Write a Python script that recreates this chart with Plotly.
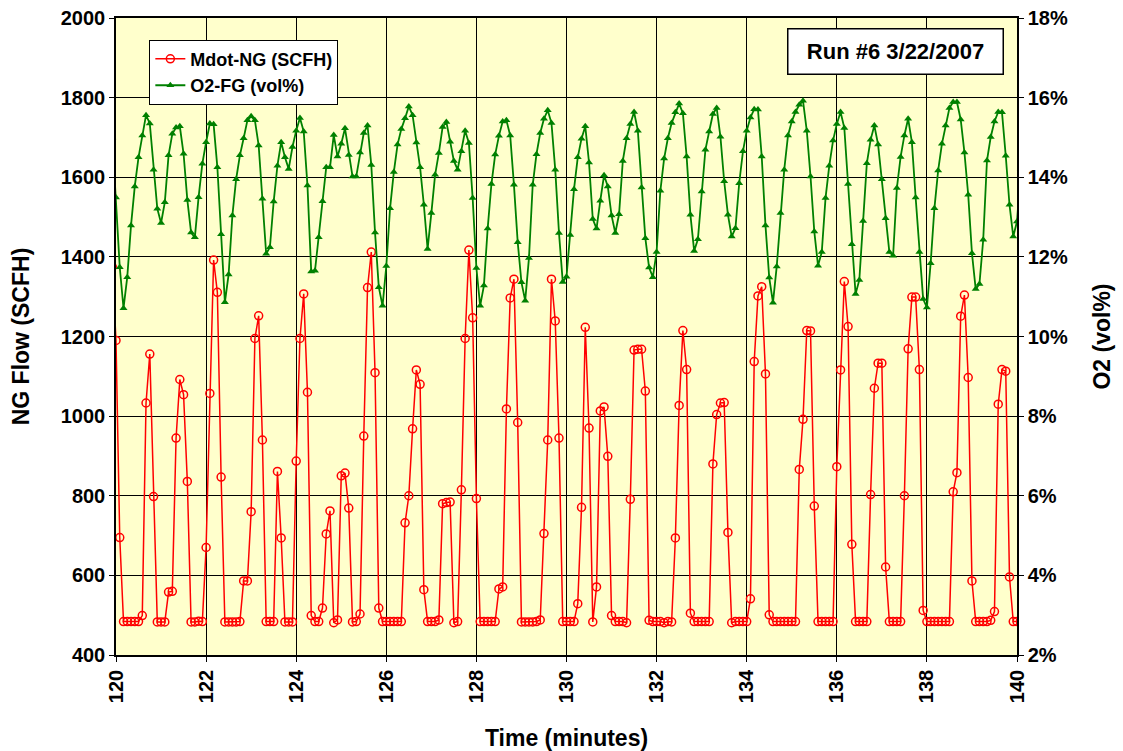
import plotly.graph_objects as go

# Sampling: one reading every 5 seconds, first reading one step before 120 min
START_MIN = 120 - 5 / 60
STEP_SEC = 5

# Natural-gas mass flow, SCFH
mdot_ng = [
    1375,
    1190, 695, 484, 484, 484, 484, 484, 499, 1033, 1156,
    798, 483, 483, 483, 558, 560, 945, 1092, 1054, 836,
    483, 483, 485, 484, 670, 1057, 1392, 1311, 847, 483,
    483, 483, 483, 484, 586, 586, 760, 1195, 1252, 940,
    484, 484, 484, 861, 694, 483, 483, 483, 887, 1195,
    1307, 1060, 499, 484, 484, 518, 704, 762, 481, 488,
    850, 857, 769, 483, 484, 503, 950, 1323, 1412, 1109,
    518, 484, 484, 484, 484, 484, 484, 732, 800, 968,
    1116, 1080, 564, 484, 484, 484, 488, 780, 783, 784,
    481, 484, 815, 1195, 1417, 1247, 793, 484, 484, 484,
    484, 484, 566, 571, 1018, 1297, 1344, 984, 483, 483,
    483, 483, 484, 488, 705, 940, 1344, 1239, 945, 484,
    484, 484, 484, 529, 771, 1223, 970, 483, 571, 1013,
    1023, 899, 499, 484, 484, 484, 481, 791, 1166, 1168,
    1168, 1063, 487, 484, 484, 484, 481, 484, 483, 694,
    1027, 1215, 1117, 505, 484, 484, 484, 484, 484, 880,
    1004, 1033, 1034, 708, 481, 484, 484, 484, 484, 541,
    1137, 1302, 1325, 1106, 501, 484, 484, 484, 484, 484,
    484, 484, 866, 992, 1215, 1214, 774, 484, 484, 484,
    484, 484, 873, 1116, 1338, 1225, 678, 484, 484, 484,
    484, 803, 1070, 1133, 1133, 621, 484, 484, 484, 484,
    800, 1169, 1299, 1299, 1117, 512, 484, 484, 484, 484,
    484, 484, 484, 810, 858, 1251, 1304, 1097, 586, 484,
    484, 484, 484, 487, 509, 1030, 1117, 1113, 596, 484,
    484,
    484,
]

# Flue-gas oxygen, vol%
o2_fg = [
    15.00,
    13.49, 11.74, 10.71, 11.49, 12.79, 13.77, 14.50, 15.05, 15.56, 15.35,
    14.19, 13.21, 12.85, 13.37, 14.55, 15.09, 15.25, 15.28, 14.59, 13.43,
    12.61, 12.49, 13.50, 14.34, 14.88, 15.35, 15.33, 14.25, 12.57, 10.86,
    11.56, 13.04, 13.95, 14.55, 14.98, 15.43, 15.53, 15.43, 14.80, 13.46,
    12.08, 12.24, 13.39, 14.29, 14.88, 14.50, 14.21, 14.76, 15.17, 15.49,
    15.15, 13.79, 11.63, 11.65, 12.49, 13.40, 14.25, 14.25, 15.06, 14.52,
    14.84, 15.23, 14.56, 14.02, 14.02, 14.62, 15.11, 15.30, 14.31, 12.61,
    11.24, 10.77, 11.77, 13.22, 14.13, 14.82, 15.21, 15.48, 15.78, 15.56,
    14.87, 14.25, 13.31, 12.20, 13.10, 14.06, 14.61, 15.26, 15.39, 14.89,
    14.41, 14.19, 14.65, 15.17, 14.86, 13.48, 11.72, 10.77, 11.28, 12.71,
    13.83, 14.57, 15.04, 15.40, 15.43, 15.05, 13.81, 12.37, 11.36, 10.90,
    11.97, 13.81, 14.58, 15.11, 15.47, 15.68, 15.36, 14.19, 12.60, 11.37,
    11.50, 12.55, 13.70, 14.50, 14.97, 15.28, 14.37, 12.95, 12.71, 13.41,
    14.05, 13.77, 13.04, 12.60, 13.07, 14.41, 14.98, 15.34, 15.64, 15.17,
    13.74, 12.47, 11.73, 11.49, 12.12, 13.66, 14.47, 14.98, 15.36, 15.63,
    15.85, 15.61, 14.52, 13.06, 12.15, 12.44, 13.64, 14.69, 15.15, 15.59,
    15.74, 15.02, 13.90, 13.06, 12.51, 12.72, 13.85, 14.65, 15.17, 15.50,
    15.71, 15.70, 14.52, 12.79, 11.48, 10.85, 11.76, 13.10, 14.19, 15.05,
    15.40, 15.64, 15.82, 15.92, 15.17, 14.02, 12.64, 11.78, 12.12, 13.48,
    14.29, 14.92, 15.34, 15.64, 15.24, 13.83, 12.32, 11.07, 11.42, 12.90,
    14.35, 14.94, 15.30, 14.82, 13.95, 12.97, 12.12, 12.03, 13.73, 14.51,
    15.05, 15.47, 14.88, 13.49, 12.12, 10.94, 10.73, 11.84, 13.22, 14.17,
    14.84, 15.30, 15.74, 15.89, 15.89, 15.45, 14.62, 13.56, 12.09, 11.19,
    11.32, 12.43, 14.42, 15.01, 15.40, 15.64, 15.63, 14.54, 13.31, 12.51,
    12.89,
    14.20,
]

time_min = [START_MIN + k * STEP_SEC / 60 for k in range(len(mdot_ng))]

FONT = "Liberation Sans, Arial, sans-serif"
RED = "#FF0000"
GREEN = "#008000"

fig = go.Figure()

fig.add_trace(go.Scatter(
    x=time_min, y=mdot_ng, name="Mdot-NG (SCFH)", mode="lines+markers",
    line=dict(color=RED, width=1.5),
    marker=dict(symbol="circle-open", size=8, color=RED, line=dict(width=1.5)),
    yaxis="y",
))

fig.add_trace(go.Scatter(
    x=time_min, y=o2_fg, name="O2-FG (vol%)", mode="lines+markers",
    line=dict(color=GREEN, width=1.8),
    marker=dict(symbol="triangle-up", size=7, color=GREEN),
    yaxis="y2",
))

tick_font = dict(family=FONT, size=20, color="black", weight="bold")
title_font = dict(family=FONT, size=23, color="black", weight="bold")

fig.update_layout(
    width=1123, height=751,
    margin=dict(l=116, r=106, t=18, b=96),
    paper_bgcolor="white",
    plot_bgcolor="#FFFFCC",
    showlegend=True,
    legend=dict(
        x=0.037, y=0.966, xanchor="left", yanchor="top",
        bgcolor="white", bordercolor="black", borderwidth=1,
        font=dict(family=FONT, size=18, color="black", weight="bold"),
        tracegroupgap=0, itemwidth=30,
    ),
    xaxis=dict(
        range=[120, 140], dtick=2, tick0=120,
        tickangle=-90, tickfont=tick_font,
        showgrid=True, gridcolor="black", gridwidth=1,
        showline=True, linecolor="black", linewidth=1.5, mirror=True,
        ticks="outside", ticklen=5, tickcolor="black",
        zeroline=False, automargin=False,
        title=dict(text="Time (minutes)", font=title_font, standoff=28),
    ),
    yaxis=dict(
        range=[400, 2000], dtick=200, tickfont=tick_font,
        showgrid=True, gridcolor="black", gridwidth=1,
        showline=True, linecolor="black", linewidth=1.5,
        ticks="outside", ticklen=5, tickcolor="black",
        zeroline=False, automargin=False,
        title=dict(text="NG Flow (SCFH)", font=title_font, standoff=25),
    ),
    yaxis2=dict(
        range=[2, 18], dtick=2, ticksuffix="%", tickfont=tick_font,
        overlaying="y", side="right", showgrid=False,
        showline=True, linecolor="black", linewidth=1.5,
        ticks="outside", ticklen=5, tickcolor="black",
        zeroline=False, automargin=False,
        title=dict(text="O2 (vol%)", font=title_font, standoff=27),
    ),
    annotations=[dict(
        text="Run #6 3/22/2007", xref="paper", yref="paper",
        x=0.865, y=0.947, xanchor="center", yanchor="middle",
        showarrow=False, bgcolor="white", bordercolor="black", borderwidth=1.5,
        width=210, height=40, borderpad=2,
        font=dict(family=FONT, size=22, color="black", weight="bold"),
    )],
)

fig.write_html("out.html")
